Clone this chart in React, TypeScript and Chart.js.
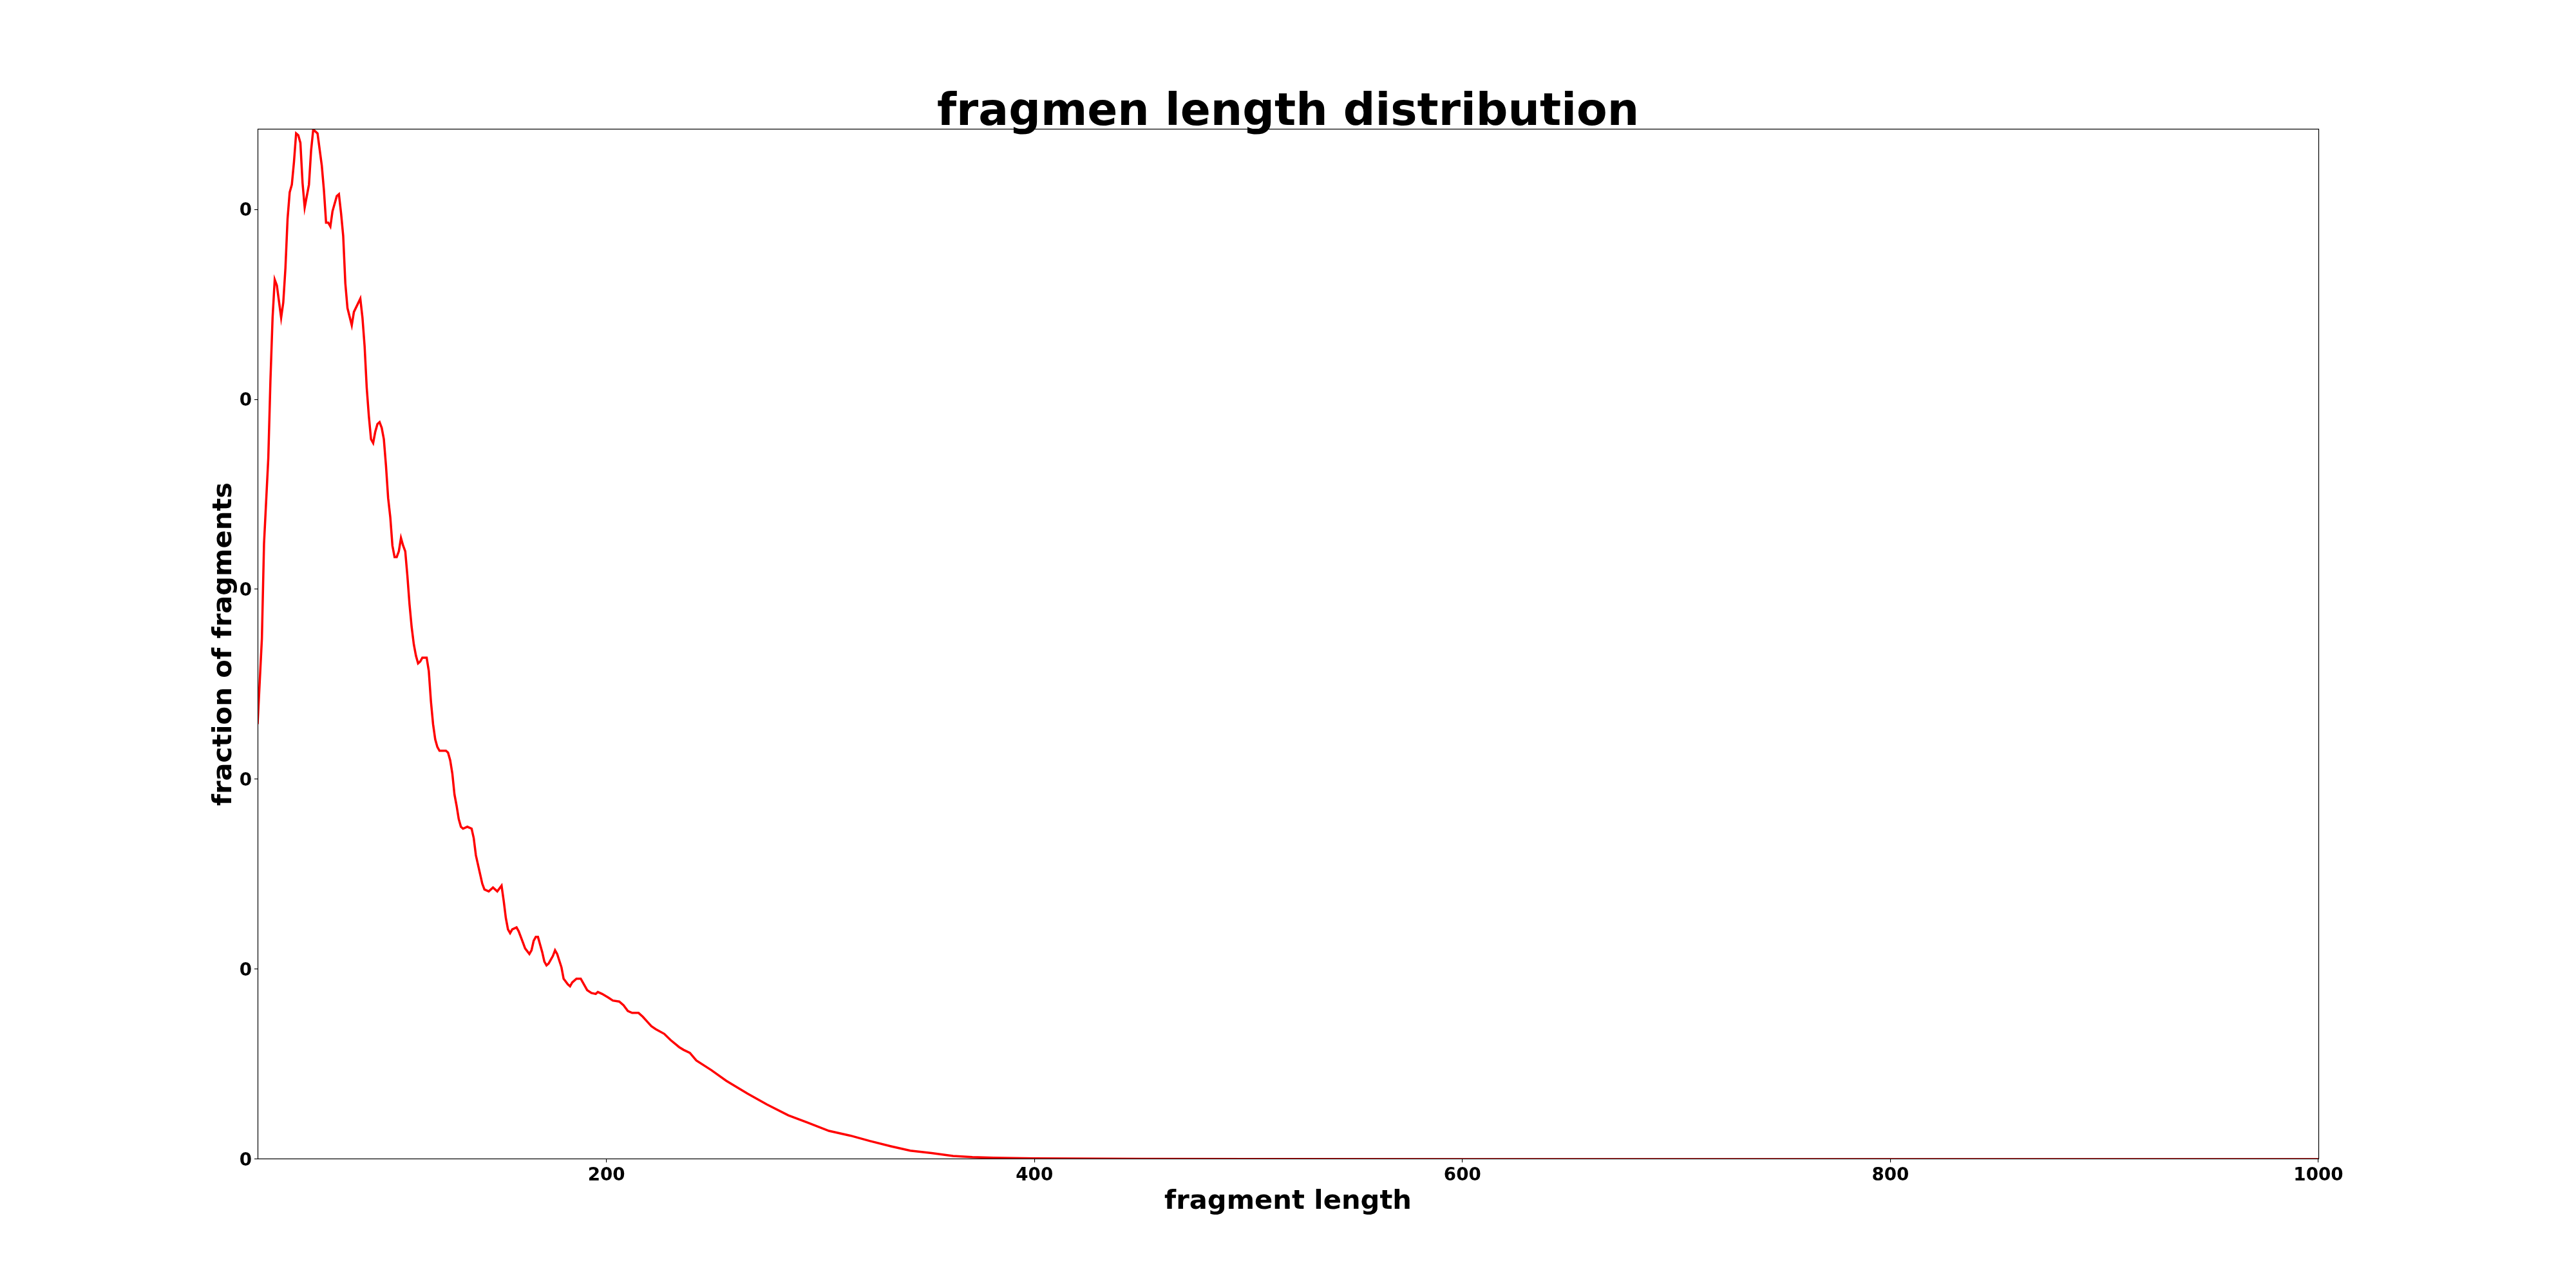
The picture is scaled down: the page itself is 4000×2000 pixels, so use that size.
import React, { useEffect, useRef } from "react";
import { Chart, registerables } from "chart.js";

Chart.register(...registerables);

const fragmentLengths: number[] = [
  37, 39, 40, 42, 43, 44, 45, 46, 48, 49, 50, 51, 52, 53, 54, 55, 56, 57, 58, 59,
  61, 62, 63, 64, 65, 67, 68, 69, 70, 71, 72, 74, 75, 76, 77, 78, 79, 81, 82, 85,
  86, 87, 88, 89, 90, 91, 92, 93, 94, 95, 96, 97, 98, 99, 100, 101, 102, 103, 104, 105,
  106, 107, 108, 109, 110, 111, 112, 113, 114, 116, 117, 118, 119, 120, 121, 122, 124, 125, 126, 127,
  128, 129, 130, 131, 132, 133, 135, 137, 138, 139, 141, 142, 143, 145, 147, 149, 151, 152, 153, 154,
  155, 156, 158, 159, 161, 162, 164, 165, 166, 167, 168, 170, 171, 172, 173, 175, 176, 177, 179, 180,
  182, 183, 184, 186, 188, 189, 191, 193, 195, 196, 198, 201, 203, 206, 208, 210, 212, 215, 217, 219,
  221, 223, 227, 230, 234, 236, 239, 242, 249, 256, 266, 275, 285, 294, 304, 314, 323, 333, 342, 352,
  362, 371, 381, 390, 400, 450, 500, 600, 700, 800, 900, 1000,
];

const fractionOfFragments: number[] = [
  0.00229, 0.00274, 0.00324, 0.00369, 0.0041, 0.00443, 0.00463, 0.0046, 0.00443, 0.00451,
  0.00469, 0.00495, 0.00509, 0.00513, 0.00525, 0.0054, 0.00539, 0.00535, 0.00514, 0.00501,
  0.00513, 0.00531, 0.00542, 0.00541, 0.0054, 0.00523, 0.0051, 0.00493, 0.00493, 0.00491,
  0.00499, 0.00507, 0.00508, 0.00498, 0.00486, 0.00461, 0.00448, 0.00439, 0.00446, 0.00453,
  0.00443, 0.00428, 0.00406, 0.00391, 0.00379, 0.00377, 0.00383, 0.00387, 0.00388, 0.00385,
  0.00379, 0.00365, 0.00348, 0.00338, 0.00323, 0.00317, 0.00317, 0.0032, 0.00327, 0.00323,
  0.0032, 0.00307, 0.00292, 0.0028, 0.00271, 0.00265, 0.00261, 0.00262, 0.00264, 0.00264,
  0.00257, 0.00241, 0.00229, 0.00221, 0.00217, 0.00215, 0.00215, 0.00215, 0.00214, 0.0021,
  0.00203, 0.00192, 0.00186, 0.00179, 0.00175, 0.00174, 0.00175, 0.00174, 0.00169, 0.0016,
  0.0015, 0.00145, 0.00142, 0.00141, 0.00143, 0.00141, 0.00144, 0.00136, 0.00127, 0.00121,
  0.00119, 0.00121, 0.00122, 0.0012, 0.00114, 0.00111, 0.00108, 0.0011, 0.00115, 0.00117,
  0.00117, 0.00109, 0.00104, 0.00102, 0.00103, 0.00107, 0.0011, 0.00108, 0.00101, 0.00095,
  0.00092, 0.00091, 0.00093, 0.00095, 0.00095, 0.00093, 0.00089, 0.000875, 0.00087, 0.00088,
  0.00087, 0.00085, 0.000835, 0.00083, 0.00081, 0.00078, 0.00077, 0.00077, 0.00075, 0.000725,
  0.0007, 0.000685, 0.00066, 0.000627, 0.00059, 0.000576, 0.00056, 0.00052, 0.000469, 0.000413,
  0.000345, 0.000288, 0.000231, 0.000193, 0.000149, 0.000124, 0.000096, 0.000068, 0.000045, 0.000032,
  0.000017, 0.000011, 0.000008, 0.000006, 0.000004, 0.000002, 0.000001, 0, 0, 0, 0, 0,
];

const xTickValues: number[] = [200, 400, 600, 800, 1000];
const yTickValues: number[] = [0, 0.001, 0.002, 0.003, 0.004, 0.005];

const titleText = "fragmen length distribution";
const xLabel = "fragment length";
const yLabel = "fraction of fragments";

const FONT = "'DejaVu Sans', sans-serif";

const framePlugin = {
  id: "frame",
  afterDatasetsDraw(chart: any) {
    const { ctx, chartArea } = chart;
    const l = Math.round(chartArea.left) + 0.5;
    const t = Math.round(chartArea.top) + 0.5;
    const r = Math.round(chartArea.right) + 0.5;
    const b = Math.round(chartArea.bottom) - 0.5;
    ctx.save();
    ctx.strokeStyle = "#000000";
    ctx.lineWidth = 1.2;
    ctx.strokeRect(l, t, r - l, b - t);
    ctx.restore();
  },
};

export default function App() {
  const canvasRef = useRef<HTMLCanvasElement | null>(null);

  useEffect(() => {
    if (!canvasRef.current) return;
    const points = fragmentLengths.map((x, i) => ({ x, y: fractionOfFragments[i] }));
    const chart = new Chart(canvasRef.current, {
      type: "line",
      data: {
        datasets: [
          {
            data: points,
            borderColor: "#ff0000",
            borderWidth: 3.5,
            pointRadius: 0,
            tension: 0,
            fill: false,
          },
        ],
      },
      options: {
        animation: false,
        responsive: false,
        devicePixelRatio: 1,
        layout: { padding: 0 },
        plugins: {
          legend: { display: false },
          tooltip: { enabled: false },
          title: {
            display: true,
            text: titleText,
            color: "#000000",
            font: { family: FONT, size: 69.44, weight: "bold", lineHeight: 0.7 },
            padding: { top: 151.4, bottom: 0 },
          },
        },
        scales: {
          x: {
            type: "linear",
            min: 37,
            max: 1000,
            afterBuildTicks: (scale: any) => {
              scale.ticks = xTickValues.map((v) => ({ value: v }));
            },
            afterFit: (scale: any) => {
              scale.height = 200;
            },
            ticks: {
              color: "#000000",
              padding: 4,
              maxRotation: 0,
              autoSkip: false,
              font: { family: FONT, size: 27.78, weight: "bold" },
              callback: (v: any) => String(v),
            },
            grid: {
              display: true,
              drawOnChartArea: false,
              drawTicks: true,
              tickLength: 5,
              color: "#000000",
              lineWidth: 1.1,
            },
            border: { display: false },
            title: {
              display: true,
              text: xLabel,
              color: "#000000",
              font: { family: FONT, size: 41.67, weight: "bold", lineHeight: 1.2 },
              padding: { top: 0, bottom: 109 },
            },
          },
          y: {
            type: "linear",
            min: 0,
            max: 0.005424,
            afterBuildTicks: (scale: any) => {
              scale.ticks = yTickValues.map((v) => ({ value: v }));
            },
            afterFit: (scale: any) => {
              scale.width = 400;
            },
            ticks: {
              color: "#000000",
              padding: 4,
              labelOffset: 3,
              autoSkip: false,
              font: { family: FONT, size: 27.78, weight: "bold" },
              callback: (v: any) => String(Math.trunc(Number(v))),
            },
            grid: {
              display: true,
              drawOnChartArea: false,
              drawTicks: true,
              tickLength: 5,
              color: "#000000",
              lineWidth: 1.1,
            },
            border: { display: false },
            title: {
              display: true,
              text: yLabel,
              color: "#000000",
              font: { family: FONT, size: 41.67, weight: "bold", lineHeight: 1.2 },
              padding: { top: 323, bottom: 0 },
            },
          },
          rightSpace: {
            type: "linear",
            position: "right",
            display: true,
            afterFit: (scale: any) => {
              scale.width = 400;
            },
            ticks: { display: false },
            grid: { display: false, drawTicks: false },
            border: { display: false },
            title: { display: false },
          },
        },
      },
      plugins: [framePlugin],
    });
    return () => chart.destroy();
  }, []);

  return (
    <div style={{ position: "absolute", left: 0, top: 0, width: 4000, height: 2000, background: "#ffffff" }}>
      <canvas ref={canvasRef} width={4000} height={2000} style={{ width: 4000, height: 2000, display: "block" }} />
    </div>
  );
}
